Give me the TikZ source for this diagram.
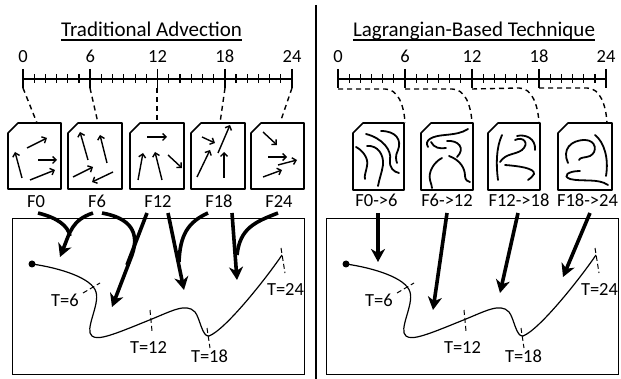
\documentclass[tikz,border=0pt]{standalone}
\usepackage{fontspec}
\setmainfont{Carlito}
\usetikzlibrary{arrows.meta,calc}
\begin{document}
\begin{tikzpicture}[x=1pt,y=-1pt,
  lbl/.style={font=\fontsize{18.5}{20}\selectfont, inner sep=0pt, anchor=base},
  ttl/.style={font=\fontsize{21}{24}\selectfont, inner sep=0pt, anchor=base},
  rulerline/.style={line width=1.6pt},
  dsh/.style={line width=1.4pt, dash pattern=on 5pt off 4pt},
  tdsh/.style={line width=1pt, dash pattern=on 5pt off 3pt},
  frame/.style={line width=1.7pt, fill=white, line join=round},
  sarrow/.style={line width=1.4pt, -{Straight Barb[length=3.5pt,width=7pt]}},
  squig/.style={line width=1.8pt, line cap=round},
  thk/.style={line width=3.6pt},
  thkarrow/.style={line width=3.6pt, -{Stealth[length=13pt,width=14pt,inset=4pt]}},
  traj/.style={line width=1.2pt},
]
\useasboundingbox (0,0) rectangle (621,379);

% divider
\draw[line width=1.6pt] (316,5) -- (316,379);

% titles
\node[ttl] (t1) at (151.5,37) {Traditional Advection};
\draw[line width=1.2pt] ($(t1.base west)+(0,3)$) -- ($(t1.base east)+(0,3)$);
\node[ttl] (t2) at (474,37) {Lagrangian-Based Technique};
\draw[line width=1.2pt] ($(t2.base west)+(0,3)$) -- ($(t2.base east)+(0,3)$);

% rulers
\draw[rulerline] (23,79) -- (292,79);
\foreach \i in {1,...,23} \draw[line width=1.2pt] ({23+\i*11.21},74.5) -- ({23+\i*11.21},83.5);
\foreach \i in {0,6,12,18,24} {
  \draw[rulerline] ({23+\i*11.21},69) -- ({23+\i*11.21},88);
  \node[lbl] (la\i) at ({23+\i*11.21},63) {\i};
}
\draw[rulerline] (338,79) -- (606,79);
\foreach \i in {1,...,23} \draw[line width=1.2pt] ({338+\i*11.17},74.5) -- ({338+\i*11.17},83.5);
\foreach \i in {0,6,12,18,24} {
  \draw[rulerline] ({338+\i*11.17},69) -- ({338+\i*11.17},88);
  \node[lbl] (lb\i) at ({338+\i*11.17},63) {\i};
}

% left dashed connectors
\draw[dsh] (23,88) -- (37,123);
\draw[dsh] (90,88) -- (98,123);
\draw[dsh] (157,88) -- (157,123);
\draw[dsh] (225,88) -- (220,123);
\draw[dsh] (292,88) -- (280,123);

% right dashed connectors
\draw[dsh] (338,89) -- (385,89) .. controls (398,89) and (404,105) .. (405,123);
\draw[dsh] (405,89) -- (452,89) .. controls (465,89) and (471,105) .. (472,123);
\draw[dsh] (472,89) -- (519,88) .. controls (532,88) and (538,105) .. (539,123);
\draw[dsh] (539,88) -- (587,88) .. controls (600,88) and (606,105) .. (607,123);

% left boxes
\foreach \a/\b in {8/61, 68/122, 130/184, 191/245, 251/304}
  \draw[frame] (\a,133) -- (\a+10,123) -- (\b,123) -- (\b,189) -- (\a,189) -- cycle;
% right boxes
\foreach \a/\b in {353/404, 421/473, 488/540, 558/612}
  \draw[frame] (\a,133) -- (\a+10,123) -- (\b,123) -- (\b,190) -- (\a,190) -- cycle;

% small arrows in left boxes
\foreach \xa/\ya/\xb/\yb in {27/148/47/138, 22/178/15/152, 38/160/57/160, 30/180/55/170,
   88/160/80/132, 107/163/100/135, 73/177/93/167, 113/172/92/182,
   147/137/167/137, 138/180/143/153, 162/180/155/152, 168/155/182/168,
   202/137/215/143, 218/153/230/125, 197/177/210/150, 224/178/224/152,
   263/132/277/145, 268/157/287/157, 278/165/297/160, 263/177/282/170}
  \draw[sarrow] (\xa,\ya) -- (\xb,\yb);

% squiggles in right boxes
\draw[squig] (366,134) .. controls (382,138) and (392,150) .. (390,160) .. controls (389,168) and (394,172) .. (399,173);
\draw[squig] (381,131) .. controls (396,131) and (402,140) .. (398,150) .. controls (395,156) and (396,160) .. (397,163);
\draw[squig] (367,146) .. controls (378,145) and (384,155) .. (383,165) .. controls (382,172) and (379,180) .. (378,186);
\draw[squig] (356,147) .. controls (362,150) and (369,158) .. (367,166) .. controls (366,172) and (364,176) .. (365,179);

\draw[squig] (428,147) .. controls (424,140) and (432,136) .. (445,135) .. controls (455,134) and (462,133) .. (468,129);
\draw[squig] (431,142) .. controls (434,148) and (440,149) .. (446,148);
\draw[squig] (447,141) .. controls (458,140) and (466,148) .. (457,157);
\draw[squig] (449,156) .. controls (460,160) and (465,168) .. (465,176) .. controls (465,180) and (468,182) .. (470,182);
\draw[squig] (442,158) .. controls (434,162) and (428,172) .. (430,180) .. controls (431,184) and (432,186) .. (432,188);

\draw[squig] (502,135) .. controls (496,148) and (496,165) .. (498,180);
\draw[squig] (515,140) .. controls (523,136) and (530,143) .. (522,150) .. controls (515,155) and (506,153) .. (500,162);
\draw[squig] (517,136) .. controls (525,134) and (536,138) .. (535,150);
\draw[squig] (505,165) .. controls (518,166) and (535,168) .. (534,174) .. controls (533,177) and (530,178) .. (528,180);

\draw[squig] (568,163) .. controls (562,150) and (570,140) .. (585,140) .. controls (596,140) and (598,152) .. (590,156) .. controls (585,158) and (580,157) .. (579,160);
\draw[squig] (595,135) .. controls (604,142) and (609,158) .. (606,176);
\draw[squig] (580,171) .. controls (568,171) and (562,176) .. (570,179) .. controls (582,182) and (598,178) .. (608,185);

% frame labels
\node[lbl] (f0) at (36,208) {F0};
\node[lbl] (f6) at (97,208) {F6};
\node[lbl] (f12) at (158,208) {F12};
\node[lbl] (f18) at (219,208) {F18};
\node[lbl] (f24) at (279,208) {F24};
\node[lbl] (g0) at (376.5,207) {F0->6};
\node[lbl] (g6) at (447,207) {F6->12};
\node[lbl] (g12) at (519,207) {F12->18};
\node[lbl] (g18) at (587.5,207) {F18->24};

% trajectory panels
\foreach \sh/\nm in {0/a, 314/b} {
\begin{scope}[xshift=\sh pt]
  \draw[line width=0.9pt] (12,218) rectangle (304,374);
  \node[circle, fill, inner sep=0pt, minimum size=7pt] (dot\nm) at (32,264) {};
  \draw[traj] (dot\nm.center) .. controls (60,268) and (92,278) .. (96,292)
     .. controls (100,305) and (84,330) .. (92,336)
     .. controls (98,341) and (115,334) .. (147,321)
     .. controls (170,312) and (186,302) .. (195,312)
     .. controls (200,318) and (202,337) .. (209,336)
     .. controls (225,330) and (265,280) .. (282,255);
  \draw[tdsh] (83,293) -- (100,283);
  \draw[tdsh] (150,310) -- (152,331);
  \draw[tdsh] (207,328) -- (210,348);
  \draw[tdsh] (281,248) -- (285,273);
  \node[lbl] (T6\nm) at (65,306) {T=6};
  \node[lbl] (T12\nm) at (148.5,353) {T=12};
  \node[lbl] (T18\nm) at (209.5,362) {T=18};
  \node[lbl] (T24\nm) at (285.5,295) {T=24};
\end{scope}
}

% thick arrows, left
\coordinate (h1) at (60,257);
\coordinate (h2) at (112,307);
\coordinate (h3) at (184,290);
\coordinate (h4) at (237,280);
\draw[thk] (38,213) .. controls (58,218) and (68,226) .. (70,236);
\draw[thkarrow] (93,213) .. controls (72,220) and (70,232) .. (h1);
\draw[thk] (147,213) -- (127,265);
\draw[thkarrow] (102,213) .. controls (130,218) and (140,232) .. (132,255) -- (h2);
\draw[thk] (208,213) .. controls (188,222) and (180,235) .. (179,262);
\draw[thkarrow] (168,213) -- (h3);
\draw[thk] (278,213) .. controls (255,222) and (240,228) .. (237,255);
\draw[thkarrow] (232,213) -- (h4);

% thick arrows, right
\coordinate (k1) at (378,262);
\coordinate (k2) at (433,310);
\coordinate (k3) at (500,293);
\coordinate (k4) at (563,277);
\draw[thkarrow] (378,213) -- (k1);
\draw[thkarrow] (447,213) -- (k2);
\draw[thkarrow] (518,213) -- (k3);
\draw[thkarrow] (590,213) -- (k4);
\end{tikzpicture}
\end{document}
